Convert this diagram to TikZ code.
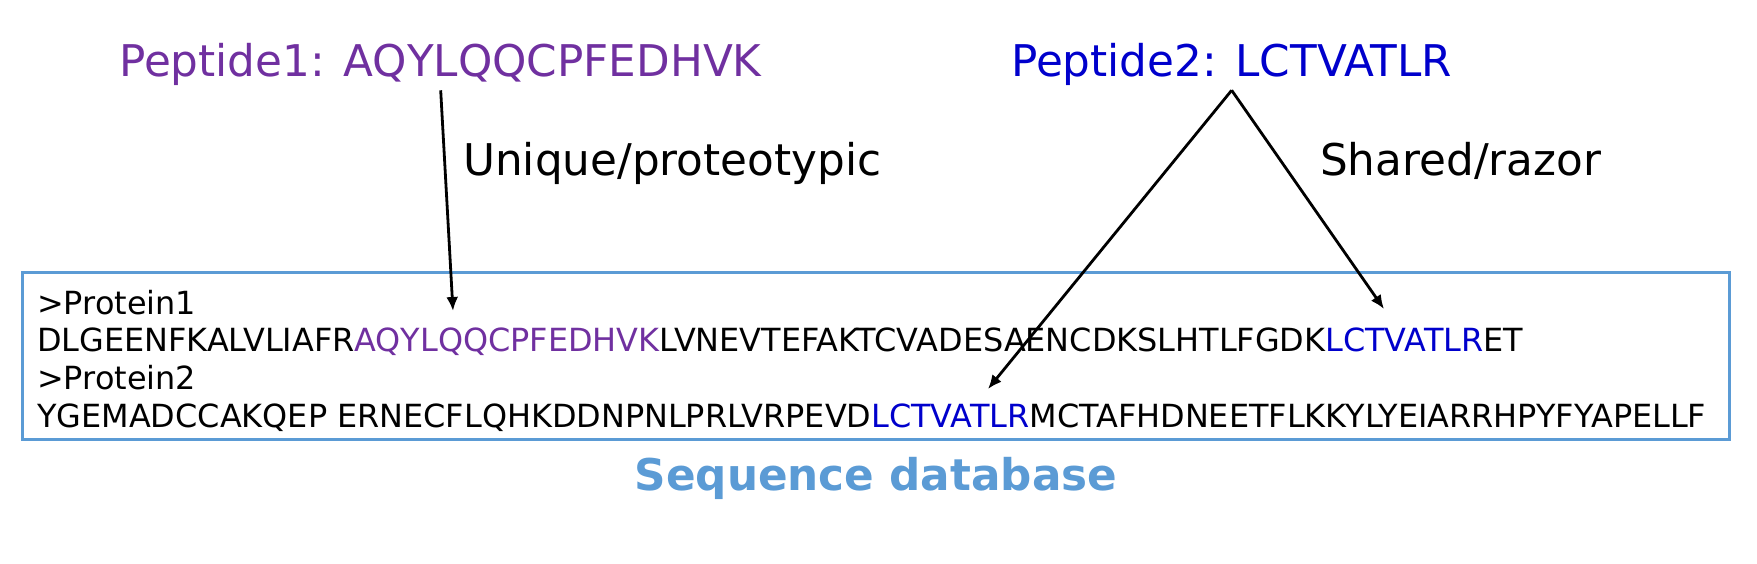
\documentclass[tikz,border=0pt]{standalone}
\usepackage{fontspec}
\setmainfont{DejaVu Sans}
\usepackage{xcolor}
\usetikzlibrary{positioning}
\usetikzlibrary{arrows.meta}

\definecolor{pepone}{HTML}{7030A0}
\definecolor{peptwo}{HTML}{0000CC}
\definecolor{dbblue}{HTML}{5B9BD5}

\begin{document}
\begin{tikzpicture}[x=1pt, y=-1pt,
  big/.style={font=\fontsize{43.7}{52}\selectfont, inner sep=0pt, anchor=base west},
  seqline/.style={font=\fontsize{31.9}{38}\selectfont, inner sep=0pt, anchor=base west},
  arr/.style={-{Latex[length=14pt,width=12pt]}, line width=2.8pt}]

\useasboundingbox (0,0) rectangle (1757,563);

% Draw the peptides
\node[big, text=pepone] (pep1) at (119,76) {Peptide1: AQYLQQCPFEDHVK};
\node[big, text=peptwo] (pep2) at (1011,76) {Peptide2: LCTVATLR};
\node[big] (unique) at (463,175) {Unique/proteotypic};
\node[big] (shared) at (1320,175) {Shared/razor};

% Draw the database
\node[draw=dbblue, line width=3pt, minimum width=1707pt, minimum height=167pt, inner sep=0pt] (dbbox) at (875.5,355.5) {};
\foreach \y/\t [count=\k] in {314/{>Protein1},
  351/{DLGEENFKALVLIAFR\textcolor{pepone}{AQYLQQCPFEDHVK}LVNEVTEFAKTCVADESAENCDKSLHTLFGDK\textcolor{peptwo}{LCTVATLR}ET},
  389/{>Protein2},
  427/{YGEMADCCAKQEP ERNECFLQHKDDNPNLPRLVRPEVD\textcolor{peptwo}{LCTVATLR}MCTAFHDNEETFLKKYLYEIARRHPYFYAPELLF}}
{
  \node[seqline] (line\k) at (37,\y) {\t};
}
\node[font=\fontsize{43.7}{52}\selectfont\bfseries, text=dbblue, inner sep=0pt, anchor=base] (dblabel) at (876,490) {Sequence database};

% Draw the arrows
\coordinate (hit1) at (453,311);
\coordinate (hit2) at (988,389);
\coordinate (hit3) at (1384,309);
\coordinate[below=5pt of pep2] (apex);
\draw[arr, shorten <=5pt] (pep1.south) -- (hit1);
\draw[arr] (apex) -- (hit2);
\draw[arr] (apex) -- (hit3);

\end{tikzpicture}
\end{document}
